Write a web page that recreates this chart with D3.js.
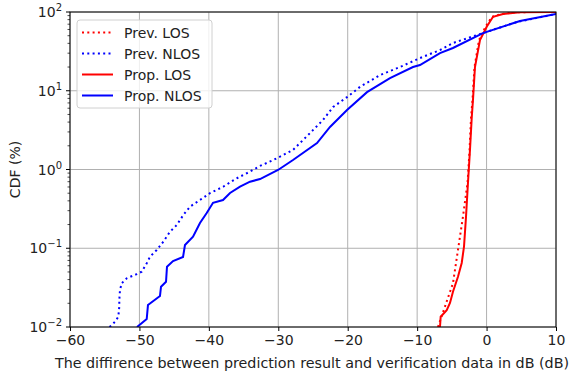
<!DOCTYPE html>
<html>
<head>
<meta charset="utf-8">
<script src="https://cdn.jsdelivr.net/npm/d3@7"></script>
<style>
  body { margin: 0; background: #fff; }
  text { font-family: "DejaVu Sans", sans-serif; fill: #222; }
</style>
</head>
<body>
<div id="chart"></div>
<script>
// data: [difference dB, CDF %]
const prevLOS = [
  [-7.0, 0.01], [-4.84, 0.036], [-4.12, 0.095], [-3.4, 0.252], [-2.74, 0.675],
  [-2.45, 1.77], [-2.24, 4.5], [-2.03, 7.6], [-1.74, 20], [-1.09, 44],
  [-0.16, 65], [0.78, 87], [2.22, 94.3], [4.1, 99.5], [10, 100]
]
const prevNLOS = [
  [-54.3, 0.01], [-53.5, 0.0117], [-53.04, 0.0135], [-52.9, 0.0181], [-52.9, 0.022],
  [-52.8, 0.0295], [-52.55, 0.0359], [-51.83, 0.0415], [-50.39, 0.047], [-49.67, 0.0504],
  [-48.95, 0.0644], [-48.48, 0.078], [-47.51, 0.095], [-46.56, 0.121], [-45.6, 0.162],
  [-44.63, 0.197], [-43.68, 0.264], [-42.72, 0.337], [-41.28, 0.41], [-39.84, 0.50],
  [-37.92, 0.605], [-35.99, 0.773], [-34.07, 0.94], [-32.63, 1.11], [-30.72, 1.32],
  [-27.88, 1.77], [-25.43, 2.9], [-23.56, 4.25], [-22.12, 6.2], [-20.1, 8.3],
  [-18.23, 11.2], [-15.35, 15.8], [-12.47, 20], [-9.59, 26], [-6.71, 32.9],
  [-4.84, 40.4], [-0.52, 54], [4.38, 74.6], [10, 94.4]
]
const propLOS = [
  [-6.71, 0.01], [-6.61, 0.0135], [-5.74, 0.0164], [-5.27, 0.0202], [-4.84, 0.028],
  [-4.12, 0.0435], [-3.58, 0.065], [-3.25, 0.105], [-2.96, 0.252], [-2.68, 0.675],
  [-2.39, 1.77], [-2.14, 4.5], [-1.96, 7.6], [-1.67, 20], [-0.95, 44],
  [0.02, 65], [0.93, 87], [2.37, 94.3], [4.81, 99.5], [10, 100]
]
const propNLOS = [
  [-50.35, 0.01], [-48.95, 0.0126], [-48.77, 0.019], [-47.04, 0.0248], [-46.89, 0.0325],
  [-46.17, 0.0376], [-46.03, 0.0583], [-45.16, 0.0689], [-43.72, 0.0774], [-43.44, 0.11],
  [-42.28, 0.14], [-41.28, 0.209], [-40.31, 0.28], [-39.4, 0.378], [-37.96, 0.41],
  [-36.95, 0.503], [-35.51, 0.605], [-34.07, 0.70], [-32.63, 0.757], [-30.04, 0.986],
  [-27.88, 1.32], [-24.42, 2.17], [-22.55, 3.47], [-20.1, 5.7], [-17.22, 9.6],
  [-13.91, 14.5], [-10.6, 20], [-9.59, 21.2], [-6.71, 30.1], [-4.84, 34.9],
  [-0.52, 54], [4.81, 76.9], [10, 94.4]
]

const xTicks = [-60, -50, -40, -30, -20, -10, 0, 10]
const yTicks = [0.01, 0.1, 1, 10, 100]
const yExponents = ["−2", "−1", "0", "1", "2"]

const seriesNames = ["Prev. LOS", "Prev. NLOS", "Prop. LOS", "Prop. NLOS"]
const seriesData = [prevLOS, prevNLOS, propLOS, propNLOS]
const seriesColors = ["#ff0000", "#0000ff", "#ff0000", "#0000ff"]
const seriesDotted = [true, true, false, false]

const width = 574
const height = 375
const plot = { left: 70, right: 556, top: 12, bottom: 327 }
const fontSize = 14

const svg = d3.select("#chart").append("svg")
  .attr("width", width)
  .attr("height", height)

const x = d3.scaleLinear().domain([-60, 10]).range([plot.left, plot.right])
const y = d3.scaleLog().domain([0.01, 100]).range([plot.bottom, plot.top])

svg.append("defs").append("clipPath")
    .attr("id", "plotClip")
  .append("rect")
    .attr("x", plot.left)
    .attr("y", plot.top)
    .attr("width", plot.right - plot.left)
    .attr("height", plot.bottom - plot.top)

// grid
const grid = svg.append("g")
grid.selectAll(".vgrid")
  .data(xTicks)
  .join("line")
    .attr("x1", d => x(d)).attr("x2", d => x(d))
    .attr("y1", plot.top).attr("y2", plot.bottom)
    .attr("stroke", "#b0b0b0")
    .attr("stroke-width", 1)
grid.selectAll(".hgrid")
  .data(yTicks)
  .join("line")
    .attr("x1", plot.left).attr("x2", plot.right)
    .attr("y1", d => y(d)).attr("y2", d => y(d))
    .attr("stroke", "#b0b0b0")
    .attr("stroke-width", 1)

// curves
const line = d3.line()
  .x(d => x(d[0]))
  .y(d => y(d[1]))

const curves = svg.append("g").attr("clip-path", "url(#plotClip)")
seriesData.forEach((data, i) => {
  curves.append("path")
    .attr("d", line(data))
    .attr("fill", "none")
    .attr("stroke", seriesColors[i])
    .attr("stroke-width", 2)
    .attr("stroke-dasharray", seriesDotted[i] ? "2,3.3" : null)
})

// axes
const xAxis = svg.append("g")
  .attr("transform", `translate(0,${plot.bottom})`)
  .call(d3.axisBottom(x).tickValues(xTicks).tickSize(4).tickPadding(4)
    .tickFormat(d => d < 0 ? "−" + Math.abs(d) : d))
xAxis.select(".domain").remove()
xAxis.selectAll("text").attr("font-size", fontSize).attr("fill", "#222")
xAxis.selectAll("line").attr("stroke", "#000")

const minorTicks = []
for (let e = -2; e < 2; e++) {
  for (let m = 2; m <= 9; m++) minorTicks.push(m * Math.pow(10, e))
}
const yAxis = svg.append("g")
yAxis.selectAll(".minor")
  .data(minorTicks)
  .join("line")
    .attr("x1", plot.left - 2.5).attr("x2", plot.left)
    .attr("y1", d => y(d)).attr("y2", d => y(d))
    .attr("stroke", "#000")
    .attr("stroke-width", 0.7)
yAxis.selectAll(".major")
  .data(yTicks)
  .join("line")
    .attr("x1", plot.left - 4).attr("x2", plot.left)
    .attr("y1", d => y(d)).attr("y2", d => y(d))
    .attr("stroke", "#000")
const yLabels = yAxis.selectAll(".ylab")
  .data(yTicks)
  .join("text")
    .attr("x", plot.left - 8)
    .attr("y", d => y(d) + 5)
    .attr("text-anchor", "end")
    .attr("font-size", fontSize)
yLabels.append("tspan").text("10")
yLabels.append("tspan")
    .attr("dy", -6)
    .attr("font-size", 10)
    .text((d, i) => yExponents[i])

// frame
svg.append("rect")
  .attr("x", plot.left)
  .attr("y", plot.top)
  .attr("width", plot.right - plot.left)
  .attr("height", plot.bottom - plot.top)
  .attr("fill", "none")
  .attr("stroke", "#000")
  .attr("stroke-width", 1)

// axis titles
svg.append("text")
  .attr("x", 312)
  .attr("y", 368)
  .attr("text-anchor", "middle")
  .attr("font-size", 14.3)
  .text("The diffirence between prediction result and verification data in dB (dB)")

svg.append("text")
  .attr("transform", `translate(20,${(plot.top + plot.bottom) / 2}) rotate(-90)`)
  .attr("text-anchor", "middle")
  .attr("font-size", fontSize)
  .text("CDF (%)")

// legend
const legend = svg.append("g").attr("transform", "translate(77,20)")
legend.append("rect")
  .attr("width", 135)
  .attr("height", 88)
  .attr("rx", 3)
  .attr("fill", "rgba(255,255,255,0.8)")
  .attr("stroke", "#d0d0d0")

const entries = legend.selectAll(".entry")
  .data(seriesNames)
  .join("g")
    .attr("transform", (d, i) => `translate(0,${12.5 + i * 21})`)
entries.append("line")
  .attr("x1", 5).attr("x2", 36)
  .attr("stroke", (d, i) => seriesColors[i])
  .attr("stroke-width", 2)
  .attr("stroke-dasharray", (d, i) => seriesDotted[i] ? "2,3.3" : null)
entries.append("text")
  .attr("x", 47)
  .attr("y", 5)
  .attr("font-size", fontSize)
  .text(d => d)
</script>
</body>
</html>
